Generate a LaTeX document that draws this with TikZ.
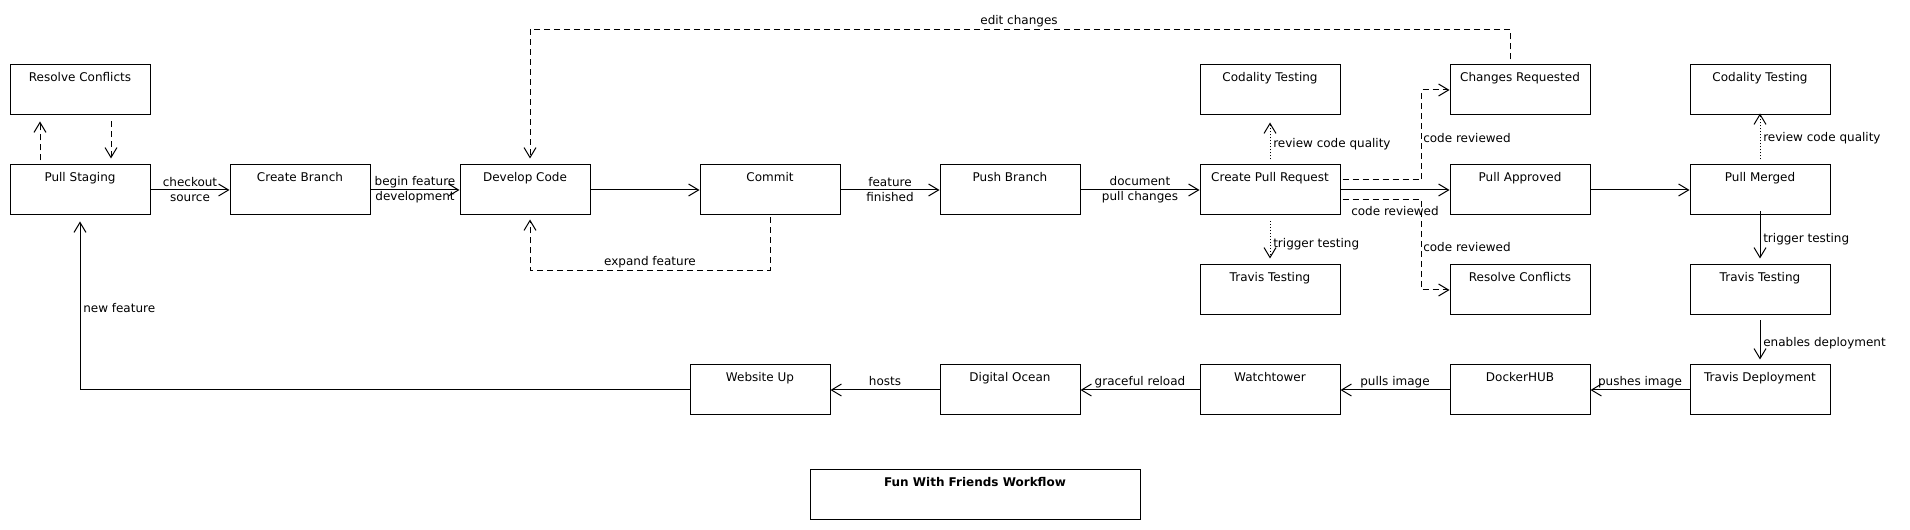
\documentclass[tikz,border=0pt]{standalone}
\usepackage{fontspec}
\setmainfont{DejaVu Sans}
\usetikzlibrary{arrows.meta}
\begin{document}
\begin{tikzpicture}[x=0.75pt,y=-0.75pt,
  every node/.style={font=\fontsize{9}{11.25}\selectfont},
  box/.style={draw, line width=0.75pt, minimum width=105pt, inner sep=0pt,
    text height=12.4pt, text depth=25.1pt},
  arr/.style={-{Straight Barb[length=7.5pt,width=9pt]}, line width=0.75pt},
  dsh/.style={dash pattern=on 4.5pt off 3pt},
  dot/.style={dash pattern=on 0.75pt off 1.5pt},
  lbl/.style={inner sep=0pt, text height=6.8pt, text depth=2.2pt},
  lbltwo/.style={inner sep=0pt, align=center}]
\useasboundingbox (0,0) rectangle (1910,530);

% boxes
\node[box] (rcA) at (80,90) {Resolve Conflicts};
\node[box] (ps) at (80,190) {Pull Staging};
\node[box] (cb) at (300,190) {Create Branch};
\node[box, minimum width=97.5pt] (dc) at (525,190) {Develop Code};
\node[box] (cm) at (770,190) {Commit};
\node[box] (pb) at (1010,190) {Push Branch};
\node[box] (cpr) at (1270,190) {Create Pull Request};
\node[box] (ctA) at (1270,90) {Codality Testing};
\node[box] (ttA) at (1270,290) {Travis Testing};
\node[box] (cr) at (1520,90) {Changes Requested};
\node[box] (pa) at (1520,190) {Pull Approved};
\node[box] (rcB) at (1520,290) {Resolve Conflicts};
\node[box] (ctB) at (1760,90) {Codality Testing};
\node[box] (pm) at (1760,190) {Pull Merged};
\node[box] (ttB) at (1760,290) {Travis Testing};
\node[box] (td) at (1760,390) {Travis Deployment};
\node[box] (dh) at (1520,390) {DockerHUB};
\node[box] (wt) at (1270,390) {Watchtower};
\node[box] (dox) at (1010,390) {Digital Ocean};
\node[box] (wu) at (760,390) {Website Up};
\node[box, minimum width=247.5pt] (title) at (975,495) {\bfseries Fun With Friends Workflow};

% left loop with resolve conflicts
\draw[dsh, arr, shorten <=3pt, shorten >=4.5pt] ([shift={(-40,0)}]ps.north) -- ([shift={(-40,0)}]rcA.south);
\draw[dsh, arr, shorten <=4.5pt, shorten >=4.5pt] ([shift={(31,0)}]rcA.south) -- ([shift={(31,0)}]ps.north);

% main row
\draw[arr] (ps) -- node[lbltwo] (l1) {checkout\\source} (cb);
\draw[arr] (cb) -- node[lbltwo] (l2) {begin feature\\development} (dc);
\draw[arr] (dc) -- (cm);
\draw[arr] (cm) -- node[lbltwo] (l3) {feature\\finished} (pb);
\draw[arr] (pb) -- node[lbltwo] (l4) {document\\pull changes} (cpr);
\draw[arr] (cpr) -- (pa);
\draw[arr] (pa) -- (pm);

% expand feature loop
\draw[dsh, arr, shorten <=1.5pt, shorten >=3pt] (cm.south) -- ++(0,55) -| ([shift={(5,0)}]dc.south);
\node[lbl] (lef) at (650,262) {expand feature};

% edit changes loop
\draw[dsh, arr, shorten <=3.75pt, shorten >=4.5pt] ([shift={(-10,0)}]cr.north) -- ++(0,-35) -| ([shift={(5,0)}]dc.north);
\node[lbl] (lec) at (1019,21) {edit changes};

% pull request branches
\draw[dsh, arr] ([shift={(2,-10)}]cpr.east) -- ++(79,0) |- (cr.west);
\draw[dsh, arr] ([shift={(2,10)}]cpr.east) -- ++(79,0) |- (rcB.west);
\node[lbl, anchor=west] (lcr1) at (1423,139) {code reviewed};
\node[lbl] (lcr2) at (1395,212) {code reviewed};
\node[lbl, anchor=west] (lcr3) at (1423,248) {code reviewed};

\draw[dot, arr, shorten <=3.75pt, shorten >=5.25pt] (cpr.north) -- (ctA.south);
\node[lbl, anchor=west] (lrq1) at (1273,144) {review code quality};
\draw[dot, arr, shorten <=4.5pt, shorten >=4.5pt] (cpr.south) -- (ttA.north);
\node[lbl, anchor=west] (ltt1) at (1273,244) {trigger testing};

% right column
\draw[dot, arr, shorten <=3.75pt, shorten >=-1.5pt] (pm.north) -- (ctB.south);
\node[lbl, anchor=west] (lrq2) at (1763,138) {review code quality};
\draw[arr, shorten <=-3pt, shorten >=4.5pt] (pm.south) -- (ttB.north);
\node[lbl, anchor=west] (ltt2) at (1763,239) {trigger testing};
\draw[arr, shorten <=3.75pt, shorten >=3.75pt] (ttB.south) -- (td.north);
\node[lbl, anchor=west] (led) at (1763,343) {enables deployment};

% bottom row
\draw[arr] (td) -- node[lbl, yshift=6pt] (l5) {pushes image} (dh);
\draw[arr] (dh) -- node[lbl, yshift=6pt] (l6) {pulls image} (wt);
\draw[arr] (wt) -- node[lbl, yshift=6pt] (l7) {graceful reload} (dox);
\draw[arr] (dox) -- node[lbl, yshift=6pt] (l8) {hosts} (wu);
\draw[arr, shorten >=4.5pt] (wu.west) -| (ps.south);
\node[lbl, anchor=west] (lnf) at (83,309) {new feature};
\end{tikzpicture}
\end{document}
